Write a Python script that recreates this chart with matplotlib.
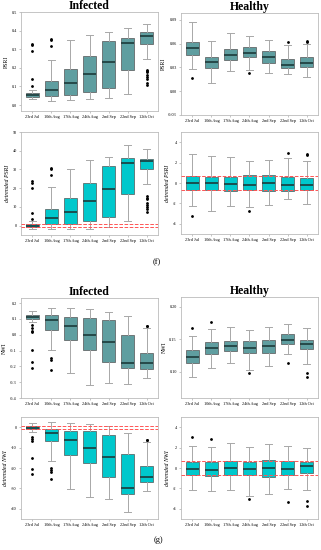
import matplotlib
matplotlib.use("Agg")
import matplotlib.pyplot as plt

plt.rcParams["font.family"] = ["Liberation Serif", "DejaVu Serif"]

dates = ["23rd Jul", "10th Aug", "17th Aug", "24th Aug", "2nd Sep", "22nd Sep", "12th Oct"]

# each row: whisker low, q1, median, q3, whisker high
psri_inf = [[0.030, 0.043, 0.055, 0.064, 0.080],
            [0.020, 0.048, 0.080, 0.130, 0.243],
            [0.025, 0.055, 0.118, 0.193, 0.350],
            [0.032, 0.071, 0.168, 0.263, 0.377],
            [0.039, 0.089, 0.230, 0.343, 0.393],
            [0.059, 0.186, 0.332, 0.359, 0.416],
            [0.250, 0.327, 0.370, 0.390, 0.434]]
psri_inf_out = [[0.105, 0.14, 0.29, 0.32, 0.33], [0.315, 0.35, 0.355], [], [], [], [],
                [0.19, 0.185, 0.18, 0.16, 0.15, 0.14, 0.12, 0.11]]

psri_hea = [[0.028, 0.046, 0.054, 0.062, 0.087],
            [0.0097, 0.029, 0.037, 0.043, 0.063],
            [0.025, 0.039, 0.046, 0.053, 0.073],
            [0.027, 0.0435, 0.048, 0.056, 0.070],
            [0.023, 0.036, 0.0435, 0.051, 0.065],
            [0.0215, 0.029, 0.0334, 0.0406, 0.058],
            [0.0173, 0.031, 0.036, 0.0427, 0.059]]
psri_hea_out = [[0.016], [], [], [0.023], [], [0.0617], [0.0625, 0.0633]]

dpsri_inf = [[-2.0, -0.9, 0.0, 0.9, 2.5],
             [-1.6, 1.1, 4.1, 9.1, 20.4],
             [-2.0, 0.9, 7.1, 14.6, 30.2],
             [-2.0, 2.5, 12.9, 23.0, 35.0],
             [-0.9, 4.6, 19.8, 31.8, 36.8],
             [2.7, 17.1, 33.4, 36.3, 43.0],
             [22.3, 30.0, 34.6, 35.7, 40.7]]
dpsri_inf_out = [[3.5, 7.0, 20.0, 23.0, 24.0], [27.0, 30.5, 31.0], [], [], [], [],
                 [16.0, 15.0, 14.0, 12.0, 11.0, 10.0, 9.0, 7.5]]

dpsri_hea = [[-2.3, -0.7, 0.0, 0.65, 2.8],
             [-2.7, -0.7, -0.03, 0.6, 2.6],
             [-2.25, -0.75, -0.1, 0.6, 2.55],
             [-2.35, -0.68, -0.15, 0.78, 2.2],
             [-2.2, -0.8, 0.0, 0.75, 2.3],
             [-1.6, -0.78, -0.22, 0.62, 2.5],
             [-2.1, -0.7, -0.22, 0.52, 2.2]]
dpsri_hea_out = [[-3.2], [], [], [-2.75], [], [2.95], [2.85, 2.7]]

nwi_inf = [[0.078, 0.097, 0.110, 0.124, 0.147],
           [-0.095, 0.032, 0.093, 0.124, 0.168],
           [-0.244, -0.036, 0.055, 0.109, 0.166],
           [-0.316, -0.099, 0.000, 0.105, 0.162],
           [-0.307, -0.173, -0.044, 0.090, 0.143],
           [-0.310, -0.213, -0.181, 0.000, 0.118],
           [-0.274, -0.217, -0.181, -0.114, 0.042]]
nwi_inf_out = [[0.063, 0.04, 0.025, 0.018, -0.097, -0.175, -0.21],
               [-0.147, -0.162, -0.221], [], [], [], [], [0.057, 0.053]]

nwi_hea = [[0.0923, 0.1134, 0.1232, 0.1335, 0.155],
           [0.106, 0.128, 0.1366, 0.1464, 0.1665],
           [0.114, 0.132, 0.140, 0.148, 0.1696],
           [0.1036, 0.1294, 0.137, 0.147, 0.165],
           [0.1088, 0.1294, 0.1397, 0.149, 0.169],
           [0.1268, 0.1433, 0.149, 0.1577, 0.1737],
           [0.1129, 0.1345, 0.1433, 0.1495, 0.1675]]
nwi_hea_out = [[0.167], [0.177], [], [0.099], [], [0.114], [0.0985, 0.0923]]

dnwi_inf = [[-2.3, -1.1, -0.5, 0.65, 2.0],
            [-16.5, -7.0, -2.9, -1.1, 2.4],
            [-30.4, -13.5, -6.5, -1.8, 2.3],
            [-34.3, -17.5, -10.4, -2.1, 1.8],
            [-35.1, -24.5, -14.7, -3.9, 0.65],
            [-41.8, -32.5, -29.7, -13.1, -2.9],
            [-31.2, -27.1, -24.2, -19.1, -7.3]]
dnwi_inf_out = [[-4.6, -5.7, -7.0, -15.3, -20.6, -22.9],
                [-20.0, -21.2, -22.2, -25.6], [], [], [], [], [-6.2, -6.5]]

dnwi_hea = [[-2.2, -0.72, -0.1, 0.62, 2.2],
            [-2.26, -0.75, -0.16, 0.59, 2.1],
            [-2.13, -0.69, 0.03, 0.66, 2.46],
            [-2.7, -0.72, -0.13, 0.62, 2.1],
            [-2.5, -0.89, 0.0, 0.79, 2.4],
            [-2.07, -0.66, -0.13, 0.69, 2.16],
            [-2.13, -0.49, 0.16, 0.59, 2.0]]
dnwi_hea_out = [[3.0], [2.8], [], [-3.0], [], [-3.3], [-3.2, -3.7]]

band = 0.7  # red dashed reference lines at +/- band on detrended panels

RAW_C = "#5f9ea0"
DET_C = "#00c8cc"


def draw_box(ax, rows, outs, color, ylim, ticks, ticklabels, ylabel, detrended=False):
    stats = []
    for r, o in zip(rows, outs):
        stats.append({"whislo": r[0], "q1": r[1], "med": r[2], "q3": r[3],
                      "whishi": r[4], "fliers": o})
    ax.bxp(stats, positions=range(len(stats)), widths=0.7, patch_artist=True,
           showfliers=True,
           boxprops=dict(facecolor=color, edgecolor="#555555", linewidth=0.5),
           medianprops=dict(color="#1c3b3b", linewidth=1.2),
           whiskerprops=dict(color="#a8a8a8", linewidth=0.7),
           capprops=dict(color="#a8a8a8", linewidth=0.7),
           flierprops=dict(marker="o", markersize=1.0, markerfacecolor="black",
                           markeredgecolor="black", linestyle="none"))
    if detrended:
        for v in (band, -band):
            ax.axhline(v, color="#ff5555", linestyle="--", linewidth=0.7, zorder=3)
    ax.set_xlim(-0.6, 6.6)
    ax.set_ylim(*ylim)
    ax.set_yticks(ticks)
    ax.set_yticklabels(ticklabels)
    ax.set_xticks(range(len(dates)))
    ax.set_xticklabels(dates)
    ax.tick_params(labelsize=3.1, length=1.5, width=0.4, color="#999999", pad=1.5)
    for s in ax.spines.values():
        s.set_color("#bbbbbb")
        s.set_linewidth(0.6)
    ax.set_ylabel(ylabel, fontsize=4.2, labelpad=2,
                  style="italic" if detrended else "normal")


fig = plt.figure(figsize=(3.21, 5.5), dpi=100)
W, H = 321, 550


def px_axes(l, t, r, b):
    return fig.add_axes([l / W, 1 - b / H, (r - l) / W, (b - t) / H])


axA = px_axes(21, 12, 158, 111)
axB = px_axes(181, 13, 318, 115)
axC = px_axes(21, 132, 158, 235)
axD = px_axes(181, 132, 318, 234)
axE = px_axes(21, 298, 158, 398)
axF = px_axes(181, 297, 318, 398)
axG = px_axes(21, 417, 158, 519)
axH = px_axes(181, 417, 318, 519)

draw_box(axA, psri_inf, psri_inf_out, RAW_C, (-0.032, 0.5),
         [0.0, 0.1, 0.2, 0.3, 0.4, 0.5], ["0.0", "0.1", "0.2", "0.3", "0.4", "0.5"], "PSRI")
draw_box(axB, psri_hea, psri_hea_out, RAW_C, (-0.03, 0.0985),
         [-0.03, 0.0, 0.03, 0.06, 0.09], ["-0.03", "0.00", "0.03", "0.06", "0.09"], "PSRI")
draw_box(axC, dpsri_inf, dpsri_inf_out, DET_C, (-5, 50),
         [0, 10, 20, 30, 40, 50], ["0", "10", "20", "30", "40", "50"], "detrended PSRI", True)
draw_box(axD, dpsri_hea, dpsri_hea_out, DET_C, (-5, 5),
         [-4, -2, 0, 2, 4], ["-4", "-2", "0", "2", "4"], "detrended PSRI", True)
draw_box(axE, nwi_inf, nwi_inf_out, RAW_C, (-0.4, 0.232),
         [-0.4, -0.3, -0.2, -0.1, 0.0, 0.1, 0.2],
         ["-0.4", "-0.3", "-0.2", "-0.1", "0.0", "0.1", "0.2"], "NWI")
draw_box(axF, nwi_hea, nwi_hea_out, RAW_C, (0.06, 0.215),
         [0.10, 0.15, 0.20], ["0.10", "0.15", "0.20"], "NWI")
draw_box(axG, dnwi_inf, dnwi_inf_out, DET_C, (-45, 5),
         [-40, -30, -20, -10, 0], ["-40", "-30", "-20", "-10", "0"], "detrended NWI", True)
draw_box(axH, dnwi_hea, dnwi_hea_out, DET_C, (-5, 5),
         [-4, -2, 0, 2, 4], ["-4", "-2", "0", "2", "4"], "detrended NWI", True)

for ax, t in [(axA, "Infected"), (axB, "Healthy"), (axE, "Infected"), (axF, "Healthy")]:
    ax.set_title(t, fontsize=8.5, fontweight="bold", pad=2)

fig.text(157 / W, 1 - 262 / H, "(f)", fontsize=6, ha="center", va="center")
fig.text(158 / W, 1 - 540 / H, "(g)", fontsize=6, ha="center", va="center")

fig.savefig("out.png", dpi=100)
